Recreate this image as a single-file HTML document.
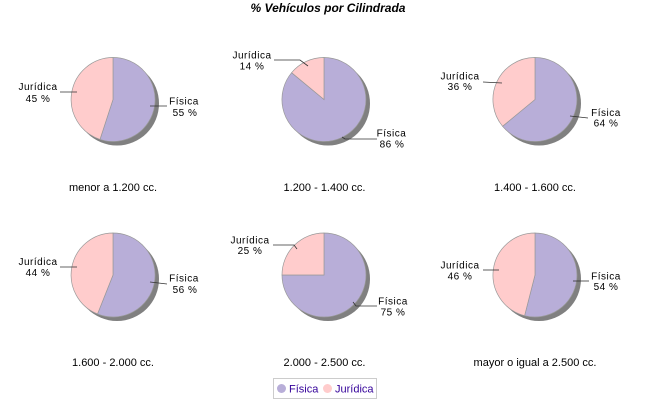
<!DOCTYPE html>
<html><head><meta charset="utf-8"><style>
html,body{margin:0;padding:0;background:#fff;}
svg{display:block;}
.t{font-family:"Liberation Sans",sans-serif;}
.lbl{font-family:"Liberation Sans",sans-serif;font-size:10px;letter-spacing:0.5px;fill:#000;text-anchor:middle;}
.sub{font-family:"Liberation Sans",sans-serif;font-size:11px;fill:#000;text-anchor:middle;}
</style></head><body>
<svg width="650" height="400" viewBox="0 0 650 400" xmlns="http://www.w3.org/2000/svg">
<rect width="650" height="400" fill="#fff"/>
<text x="328" y="12" class="t" font-size="12" font-weight="bold" font-style="italic" text-anchor="middle">% Vehículos por Cilindrada</text>

<g stroke="#999" stroke-width="0.7">
<!-- Chart 1 -->
<circle cx="117" cy="103.5" r="42" fill="#808080" stroke="none"/>
<path d="M113,99.5 L113,57.5 A42,42 0 1 1 100,139.4 Z" fill="#b8aed8"/>
<path d="M113,99.5 L100,139.4 A42,42 0 0 1 113,57.5 Z" fill="#ffcccc"/>
<!-- Chart 2 -->
<circle cx="328" cy="103.5" r="42" fill="#808080" stroke="none"/>
<path d="M324,99.5 L324,57.5 A42,42 0 1 1 291.6,72.7 Z" fill="#b8aed8"/>
<path d="M324,99.5 L291.6,72.7 A42,42 0 0 1 324,57.5 Z" fill="#ffcccc"/>
<!-- Chart 3 -->
<circle cx="539" cy="103.5" r="42" fill="#808080" stroke="none"/>
<path d="M535,99.5 L535,57.5 A42,42 0 1 1 502.6,126.3 Z" fill="#b8aed8"/>
<path d="M535,99.5 L502.6,126.3 A42,42 0 0 1 535,57.5 Z" fill="#ffcccc"/>
<!-- Chart 4 -->
<circle cx="117" cy="279" r="42" fill="#808080" stroke="none"/>
<path d="M113,275 L113,233 A42,42 0 1 1 97.5,314 Z" fill="#b8aed8"/>
<path d="M113,275 L97.5,314 A42,42 0 0 1 113,233 Z" fill="#ffcccc"/>
<!-- Chart 5 -->
<circle cx="328" cy="279" r="42" fill="#808080" stroke="none"/>
<path d="M324,275 L324,233 A42,42 0 1 1 282,275 Z" fill="#b8aed8"/>
<path d="M324,275 L282,275 A42,42 0 0 1 324,233 Z" fill="#ffcccc"/>
<!-- Chart 6 -->
<circle cx="539" cy="279" r="42" fill="#808080" stroke="none"/>
<path d="M535,275 L535,233 A42,42 0 1 1 524.6,315.7 Z" fill="#b8aed8"/>
<path d="M535,275 L524.6,315.7 A42,42 0 0 1 535,233 Z" fill="#ffcccc"/>
</g>

<!-- link lines -->
<g stroke="#333" stroke-width="0.8" fill="none">
<polyline points="60,92 77,92"/>
<polyline points="150,106 167,106"/>
<polyline points="274,60 300,60 308,66"/>
<polyline points="342,137 345,139 377,139"/>
<polyline points="483,82 502,83"/>
<polyline points="570,116 588,118"/>
<polyline points="60,267 77,267"/>
<polyline points="150,282 167,284"/>
<polyline points="273,245 294,245 297,249"/>
<polyline points="353,302 356,306 377,306"/>
<polyline points="483,270 499,270"/>
<polyline points="573,281 589,281"/>
</g>

<!-- labels -->
<text class="lbl" x="38" y="90">Jurídica</text><text class="lbl" x="38" y="102">45 %</text>
<text class="lbl" x="184" y="104.5">Física</text><text class="lbl" x="185" y="116">55 %</text>

<text class="lbl" x="252" y="58.5">Jurídica</text><text class="lbl" x="252" y="69.5">14 %</text>
<text class="lbl" x="391.5" y="136.5">Física</text><text class="lbl" x="392" y="147.5">86 %</text>

<text class="lbl" x="460" y="79.5">Jurídica</text><text class="lbl" x="460" y="90">36 %</text>
<text class="lbl" x="606" y="116">Física</text><text class="lbl" x="606" y="126.5">64 %</text>

<text class="lbl" x="38" y="265">Jurídica</text><text class="lbl" x="38" y="276">44 %</text>
<text class="lbl" x="184" y="281.5">Física</text><text class="lbl" x="185" y="293">56 %</text>

<text class="lbl" x="250" y="243.5">Jurídica</text><text class="lbl" x="250" y="254">25 %</text>
<text class="lbl" x="393" y="304.5">Física</text><text class="lbl" x="393" y="315.5">75 %</text>

<text class="lbl" x="460" y="268.5">Jurídica</text><text class="lbl" x="460" y="279.5">46 %</text>
<text class="lbl" x="606" y="279.5">Física</text><text class="lbl" x="606" y="290">54 %</text>

<!-- subtitles -->
<text class="sub" x="113" y="191">menor a 1.200 cc.</text>
<text class="sub" x="324.5" y="191">1.200 - 1.400 cc.</text>
<text class="sub" x="535" y="191">1.400 - 1.600 cc.</text>
<text class="sub" x="113" y="366">1.600 - 2.000 cc.</text>
<text class="sub" x="324.5" y="366">2.000 - 2.500 cc.</text>
<text class="sub" x="535" y="366">mayor o igual a 2.500 cc.</text>

<!-- legend -->
<rect x="273.5" y="378.5" width="103" height="20" fill="#fff" stroke="#ccc" stroke-width="1"/>
<circle cx="281.5" cy="388.5" r="4.5" fill="#b8aed8"/>
<text x="289" y="392.5" class="t" font-size="11" fill="#330099">Física</text>
<circle cx="327.5" cy="388.5" r="4.5" fill="#ffcccc"/>
<text x="335" y="392.5" class="t" font-size="11" fill="#330099">Jurídica</text>
</svg>
</body></html>
